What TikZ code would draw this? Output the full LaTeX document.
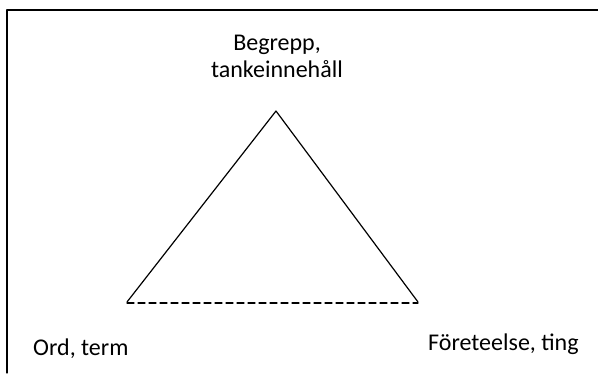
\documentclass[tikz,border=0pt]{standalone}
\usepackage{fontspec}
\setmainfont{Carlito}
\begin{document}
\begin{tikzpicture}[x=1pt,y=-1pt,line cap=round,line join=round,
  lbl/.style={inner sep=0pt,font=\fontsize{24}{27}\selectfont,align=center}]
  \useasboundingbox (0,0) rectangle (598,373);
  \draw[line width=1.2pt] (7,373) -- (7,10) -- (598,10);
  \coordinate (apex) at (276,111);
  \coordinate (lft) at (127,302);
  \coordinate (rgt) at (418,302);
  \draw[line width=1.2pt] (lft) -- (apex) -- (rgt);
  \draw[line width=1.1pt,dash pattern=on 7pt off 4pt] ([yshift=-1pt]lft) -- ([yshift=-1pt]rgt);
  \node[lbl,anchor=base] (concept) at (277,77) {Begrepp,\\tankeinnehåll};
  \node[lbl,anchor=base west] (word) at (33,355) {Ord, term};
  \node[lbl,anchor=base west] (thing) at (428,350) {Företeelse, ting};
\end{tikzpicture}
\end{document}
